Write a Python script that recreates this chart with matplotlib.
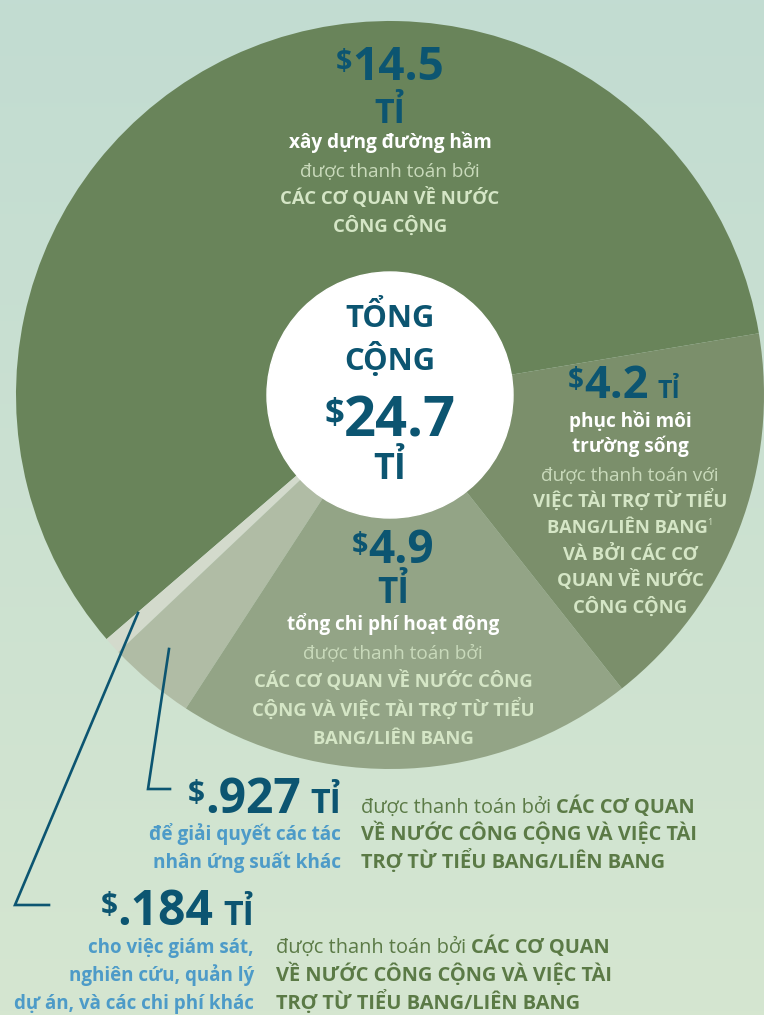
import numpy as np
import matplotlib
matplotlib.use("Agg")
import matplotlib.pyplot as plt
from matplotlib.patches import Circle
from matplotlib.colors import LinearSegmentedColormap

W, H = 764, 1015

# cost pieces in billions of dollars, counter-clockwise from the right side
values = [14.5, 0.184, 0.927, 4.9, 4.2]
slice_colors = ["#69845a", "#d3dacc", "#b0bca5", "#93a486", "#7b8f6b"]
total_value = 24.7
unit = "TỈ"

FONT = ["Open Sans", "DejaVu Sans"]
BLUE = "#0c5571"
PAID = "#c9dabb"
CAPS = "#d5e6c6"
LBLUE = "#4d9bc8"
DGREEN = "#5b7a46"


def amount(v):
    return ("%g" % v).lstrip("0")


fig = plt.figure(figsize=(W / 100, H / 100), dpi=100)
ax = fig.add_axes([0, 0, 1, 1])

# background gradient
bg = LinearSegmentedColormap.from_list("bg", ["#d5e6d0", "#c2dcd2"])
ax.imshow(np.linspace(0, 1, 256)[:, None], extent=[0, W, 0, H], cmap=bg,
          aspect="auto", origin="lower", zorder=0)

cx, cy, R = 390, H - 395, 374
ax.pie(values, colors=slice_colors, startangle=9.5, counterclock=True,
       center=(cx, cy), radius=R, wedgeprops=dict(linewidth=0))
ax.add_patch(Circle((cx, cy), 123, color="white", zorder=3))
ax.set_xlim(0, W)
ax.set_ylim(0, H)
ax.axis("off")

renderer = fig.canvas.get_renderer()


def line(x, y, runs, ha="center"):
    # runs: (text, size px, color, weight, rise px, gap px before)
    objs = []
    for txt, size, color, weight, rise, gap in runs:
        t = ax.text(0, H - y + rise, txt, fontsize=size * 0.72, color=color,
                    fontweight=weight, family=FONT, ha="left",
                    va="baseline", zorder=5)
        objs.append((t, gap))
    widths = [t.get_window_extent(renderer).width + g for t, g in objs]
    tw = sum(widths)
    start = {"center": x - tw / 2, "left": x, "right": x - tw}[ha]
    for (t, g), w in zip(objs, widths):
        t.set_x(start + g)
        start += w


def money(x, y, v, size, tail=None, ha="center"):
    runs = [("$", size * 0.62, BLUE, "bold", size * 0.22, 0),
            (amount(v), size, BLUE, "bold", 0, 0)]
    if tail:
        runs.append((unit, tail, BLUE, "bold", 0, size * 0.2))
    line(x, y, runs, ha=ha)


def block(x, y0, rows, step, ha="center"):
    for i, runs in enumerate(rows):
        line(x, y0 + i * step, runs, ha=ha)


# biggest slice
money(390, 80, values[0], 46)
line(390, 123, [(unit, 34, BLUE, "bold", 0, 0)])
block(390, 148, [
    [("xây dựng đường hầm", 19, "white", "bold", 0, 0)],
    [("được thanh toán bởi", 19, PAID, "normal", 0, 0)],
    [("CÁC CƠ QUAN VỀ NƯỚC", 18.5, CAPS, "bold", 0, 0)],
    [("CÔNG CỘNG", 18.5, CAPS, "bold", 0, 0)],
], 28)

# centre total
line(390, 327, [("TỔNG", 31, BLUE, "bold", 0, 0)])
line(390, 370, [("CỘNG", 31, BLUE, "bold", 0, 0)])
money(390, 436, total_value, 56)
line(390, 479, [(unit, 36, BLUE, "bold", 0, 0)])

# habitat slice
money(624, 398, values[4], 45, tail=25)
block(630, 427, [
    [("phục hồi môi", 19, "white", "bold", 0, 0)],
    [("trường sống", 19, "white", "bold", 0, 0)],
], 25)
block(630, 480, [
    [("được thanh toán với", 19, PAID, "normal", 0, 0)],
    [("VIỆC TÀI TRỢ TỪ TIỂU", 18.5, CAPS, "bold", 0, 0)],
    [("BANG/LIÊN BANG", 18.5, CAPS, "bold", 0, 0),
     ("1", 9, CAPS, "normal", 8, -1)],
    [("VÀ BỞI CÁC CƠ", 18.5, CAPS, "bold", 0, 0)],
    [("QUAN VỀ NƯỚC", 18.5, CAPS, "bold", 0, 0)],
    [("CÔNG CỘNG", 18.5, CAPS, "bold", 0, 0)],
], 26.5)

# operations slice
money(393, 563, values[3], 46)
line(393, 603, [(unit, 35, BLUE, "bold", 0, 0)])
block(393, 630, [
    [("tổng chi phí hoạt động", 19, "white", "bold", 0, 0)],
    [("được thanh toán bởi", 19, PAID, "normal", 0, 0)],
    [("CÁC CƠ QUAN VỀ NƯỚC CÔNG", 18.5, CAPS, "bold", 0, 0)],
    [("CỘNG VÀ VIỆC TÀI TRỢ TỪ TIỂU", 18.5, CAPS, "bold", 0, 0)],
    [("BANG/LIÊN BANG", 18.5, CAPS, "bold", 0, 0)],
], 28.5)

# leader lines
lw = 1.9
ax.plot([169, 148, 170], [H - 649, H - 789, H - 789], color=BLUE, lw=lw,
        solid_joinstyle="miter", zorder=6)
ax.plot([138, 15, 49], [H - 613, H - 905, H - 905], color=BLUE, lw=lw,
        solid_joinstyle="miter", zorder=6)

funding = [
    [("được thanh toán bởi ", 20, DGREEN, "normal", 0, 0),
     ("CÁC CƠ QUAN", 20, DGREEN, "bold", 0, 0)],
    [("VỀ NƯỚC CÔNG CỘNG VÀ VIỆC TÀI", 20, DGREEN, "bold", 0, 0)],
    [("TRỢ TỪ TIỂU BANG/LIÊN BANG", 20, DGREEN, "bold", 0, 0)],
]

# stressors
money(341, 813, values[2], 48, tail=34, ha="right")
block(341, 840, [
    [("để giải quyết các tác", 19, LBLUE, "bold", 0, 0)],
    [("nhân ứng suất khác", 19, LBLUE, "bold", 0, 0)],
], 28, ha="right")
block(361, 813, funding, 27.5, ha="left")

# monitoring etc.
money(254, 925, values[1], 48, tail=34, ha="right")
block(254, 953, [
    [("cho việc giám sát,", 18.8, LBLUE, "bold", 0, 0)],
    [("nghiên cứu, quản lý", 18.8, LBLUE, "bold", 0, 0)],
    [("dự án, và các chi phí khác", 18.8, LBLUE, "bold", 0, 0)],
], 28, ha="right")
block(276, 953, funding, 28, ha="left")

fig.savefig("out.png", dpi=100)
